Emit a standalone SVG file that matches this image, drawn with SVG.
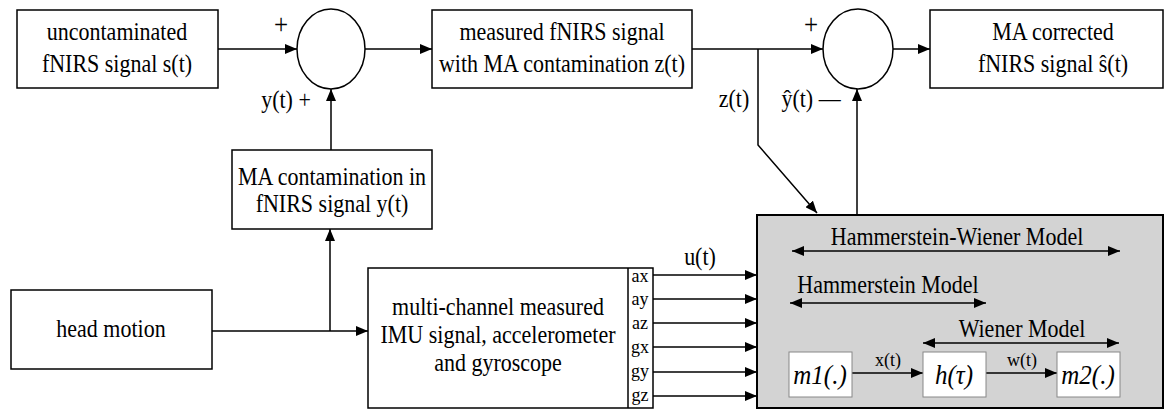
<svg xmlns="http://www.w3.org/2000/svg" width="1167" height="410" viewBox="0 0 1167 410">
<defs>
<marker id="ah" viewBox="0 0 12 10" refX="12" refY="5" markerWidth="12" markerHeight="10" markerUnits="userSpaceOnUse" orient="auto-start-reverse">
<path d="M0,0 L12,5 L0,10 z" fill="#000"/>
</marker>
<style>
.box{fill:#fff;stroke:#000;stroke-width:1.5}
.t{font-family:"Liberation Serif","Times New Roman",serif;font-size:22px;fill:#000;text-anchor:middle}
.s{font-family:"Liberation Serif","Times New Roman",serif;font-size:18px;fill:#000;text-anchor:middle}
.p{font-family:"Liberation Serif","Times New Roman",serif;font-size:25px;fill:#000;text-anchor:middle}
.i{font-family:"Liberation Serif","Times New Roman",serif;font-size:25px;font-style:italic;fill:#000;text-anchor:middle}
.c{fill:none;stroke:#000;stroke-width:1.5}
.a{marker-end:url(#ah)}
.d{marker-start:url(#ah);marker-end:url(#ah)}
.ib{fill:#fff;stroke:#888;stroke-width:1}
</style>
</defs>
<rect width="1167" height="410" fill="#fff"/>
<g id="connectors">
<line class="c a" x1="218" y1="49" x2="297" y2="49"/>
<line class="c a" x1="365" y1="49" x2="432" y2="49"/>
<line class="c a" x1="692" y1="49" x2="823" y2="49"/>
<line class="c a" x1="893" y1="49" x2="930" y2="49"/>
<polyline class="c a" points="758,49 758,145 817,213"/>
<line class="c a" x1="857" y1="215" x2="857" y2="89"/>
<line class="c a" x1="331" y1="150" x2="331" y2="89"/>
<line class="c a" x1="212" y1="331" x2="368" y2="331"/>
<line class="c a" x1="330" y1="331" x2="330" y2="229"/>
<line class="c a" x1="653" y1="275" x2="757" y2="275"/>
<line class="c a" x1="653" y1="299" x2="757" y2="299"/>
<line class="c a" x1="653" y1="323" x2="757" y2="323"/>
<line class="c a" x1="653" y1="347" x2="757" y2="347"/>
<line class="c a" x1="653" y1="372" x2="757" y2="372"/>
<line class="c a" x1="653" y1="396" x2="757" y2="396"/>
<text class="p" transform="translate(281,34) scale(1,1.15)">+</text>
<text class="t" transform="translate(286,108) scale(1,1.18)">y(t) +</text>
<text class="p" transform="translate(811,34) scale(1,1.15)">+</text>
<text class="t" transform="translate(734,107) scale(1,1.18)">z(t)</text>
<text class="t" transform="translate(811,107) scale(1,1.18)">ŷ(t) —</text>
<text class="t" transform="translate(700,265) scale(1,1.18)">u(t)</text>
</g>
<g id="n-uncontaminated">
<rect class="box" x="17" y="10" width="201" height="78"/>
<text class="t" transform="translate(117,40) scale(1,1.18)">uncontaminated</text>
<text class="t" transform="translate(117,72) scale(1,1.18)">fNIRS signal s(t)</text>
</g>
<g id="n-sum1">
<ellipse class="box" cx="331" cy="49" rx="34" ry="40"/>
</g>
<g id="n-measured">
<rect class="box" x="432" y="10" width="260" height="78"/>
<text class="t" transform="translate(562,40) scale(1,1.18)">measured fNIRS signal</text>
<text class="t" transform="translate(562,72) scale(1,1.18)">with MA contamination z(t)</text>
</g>
<g id="n-sum2">
<ellipse class="box" cx="858" cy="49" rx="35" ry="40"/>
</g>
<g id="n-corrected">
<rect class="box" x="930" y="10" width="233" height="78"/>
<text class="t" transform="translate(1053,40) scale(1,1.18)">MA corrected</text>
<text class="t" transform="translate(1053,72) scale(1,1.18)">fNIRS signal ŝ(t)</text>
</g>
<g id="n-ma">
<rect class="box" x="232" y="150" width="200" height="79"/>
<text class="t" transform="translate(332,185) scale(1,1.18)">MA contamination in</text>
<text class="t" transform="translate(332,212) scale(1,1.18)">fNIRS signal y(t)</text>
</g>
<g id="n-head">
<rect class="box" x="11" y="290" width="201" height="79"/>
<text class="t" transform="translate(111,337) scale(1,1.18)">head motion</text>
</g>
<g id="n-imu">
<rect class="box" x="368" y="268" width="285" height="140"/>
<line class="c" x1="628" y1="268" x2="628" y2="408"/>
<text class="t" transform="translate(498,315) scale(1,1.18)">multi-channel measured</text>
<text class="t" transform="translate(498,343) scale(1,1.18)">IMU signal, accelerometer</text>
<text class="t" transform="translate(498,371) scale(1,1.18)">and gyroscope</text>
<text class="s" x="640" y="282">ax</text>
<text class="s" x="640" y="305">ay</text>
<text class="s" x="640" y="329">az</text>
<text class="s" x="640" y="353">gx</text>
<text class="s" x="640" y="377">gy</text>
<text class="s" x="640" y="401">gz</text>
</g>
<g id="n-hw">
<rect x="757" y="215" width="406" height="193" fill="#d3d3d3" stroke="#000" stroke-width="2"/>
<text class="t" transform="translate(957,245) scale(1,1.18)">Hammerstein-Wiener Model</text>
<line class="c d" x1="792" y1="251" x2="1120" y2="251"/>
<text class="t" transform="translate(888,293) scale(1,1.18)">Hammerstein Model</text>
<line class="c d" x1="790" y1="303" x2="986" y2="303"/>
<text class="t" transform="translate(1022,337) scale(1,1.18)">Wiener Model</text>
<line class="c d" x1="923" y1="343" x2="1119" y2="343"/>
<line class="c a" x1="852" y1="373" x2="923" y2="373"/>
<line class="c a" x1="986" y1="373" x2="1057" y2="373"/>
<text class="s" x="888" y="366">x(t)</text>
<text class="s" x="1022" y="366">w(t)</text>
</g>
<g id="n-m1">
<rect class="ib" x="789" y="352" width="63" height="45"/>
<text class="i" transform="translate(820,384) scale(1,1.1)">m1(.)</text>
</g>
<g id="n-h">
<rect class="ib" x="923" y="352" width="63" height="45"/>
<text class="i" transform="translate(954,384) scale(1,1.1)">h(τ)</text>
</g>
<g id="n-m2">
<rect class="ib" x="1057" y="352" width="63" height="45"/>
<text class="i" transform="translate(1088,384) scale(1,1.1)">m2(.)</text>
</g>
</svg>
